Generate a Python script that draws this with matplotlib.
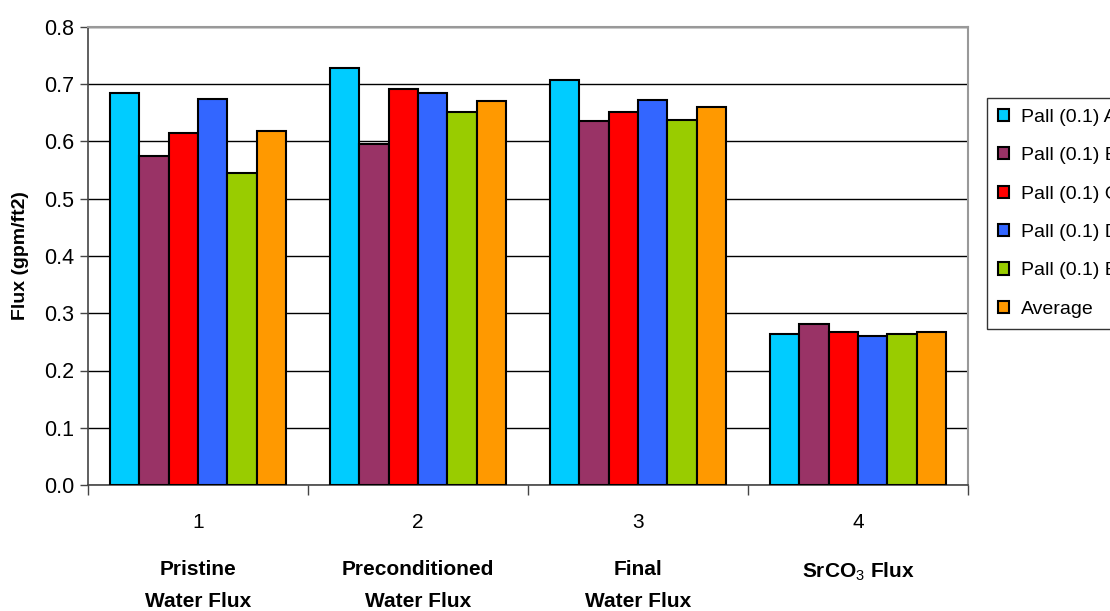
import matplotlib.pyplot as plt
import matplotlib.transforms as mtransforms
import numpy as np

groups = ["1", "2", "3", "4"]
group_names = ["Pristine\nWater Flux", "Preconditioned\nWater Flux",
               "Final\nWater Flux", "SrCO$_3$ Flux"]
series = ["Pall (0.1) A", "Pall (0.1) B", "Pall (0.1) C",
          "Pall (0.1) D", "Pall (0.1) E", "Average"]
pall_a = [0.685, 0.728, 0.708, 0.264]
pall_b = [0.575, 0.595, 0.636, 0.281]
pall_c = [0.615, 0.691, 0.652, 0.267]
pall_d = [0.675, 0.685, 0.672, 0.261]
pall_e = [0.545, 0.652, 0.638, 0.264]
average = [0.619, 0.671, 0.661, 0.267]
colors = ["#00CCFF", "#993366", "#FF0000", "#3366FF", "#99CC00", "#FF9900"]

plt.rcParams['font.family'] = ['Liberation Sans', 'DejaVu Sans']
plt.rcParams['mathtext.fontset'] = 'custom'
plt.rcParams['mathtext.bf'] = 'Liberation Sans:bold'
plt.rcParams['mathtext.rm'] = 'Liberation Sans'

fig = plt.figure(figsize=(11.1, 6.11), dpi=100)
ax = fig.add_axes([88 / 1110, (611 - 485) / 611, 880 / 1110, 458 / 611])

x = np.arange(len(groups))
width = 0.134
all_vals = [pall_a, pall_b, pall_c, pall_d, pall_e, average]
for i, (vals, name) in enumerate(zip(all_vals, series)):
    ax.bar(x + (i - 2.5) * width, vals, width, color=colors[i],
           edgecolor="black", linewidth=1.5, label=name, zorder=3)

ax.set_xlim(-0.5, 3.5)
ax.set_ylim(0, 0.8)
ax.set_yticks(np.arange(0, 0.81, 0.1))
ax.set_yticklabels([f"{v:.1f}" for v in np.arange(0, 0.81, 0.1)], fontsize=15.5)
ax.yaxis.grid(True, color="black", linewidth=1.0, zorder=0)
ax.tick_params(axis="y", direction="out", length=6, width=1, color="#444444", pad=4)

# group boundary ticks below the axis, numbers centred under each group
ax.set_xticks(np.arange(-0.5, 4, 1))
ax.set_xticklabels([])
ax.tick_params(axis="x", which="major", direction="out", length=7, width=1, color="#444444")
ax.set_xticks(x, minor=True)
ax.set_xticklabels(groups, minor=True, fontsize=15)
ax.tick_params(axis="x", which="minor", length=0, pad=20)

for s in ["top", "right"]:
    ax.spines[s].set_color("#999999")
    ax.spines[s].set_linewidth(1.5)
for s in ["left", "bottom"]:
    ax.spines[s].set_color("#444444")
    ax.spines[s].set_linewidth(1.2)

trans = mtransforms.blended_transform_factory(ax.transData, fig.transFigure)
for xi, name in zip(x, group_names):
    ax.text(xi, 1 - 560 / 611, name, transform=trans, ha="center", va="top",
            fontsize=15, fontweight="bold", linespacing=1.85)

ax.set_ylabel("Flux (gpm/ft2)", fontsize=14, fontweight="bold", labelpad=11)

leg = fig.legend(loc="upper left", bbox_to_anchor=(987 / 1110, 1 - 98 / 611),
                 fontsize=14, frameon=True, fancybox=False, handlelength=0.6,
                 handleheight=0.6, handletextpad=0.6, labelspacing=1.1,
                 borderpad=0.55, borderaxespad=0)
leg.get_frame().set_edgecolor("black")
leg.get_frame().set_linewidth(1.0)

fig.savefig("out.png", dpi=100)
